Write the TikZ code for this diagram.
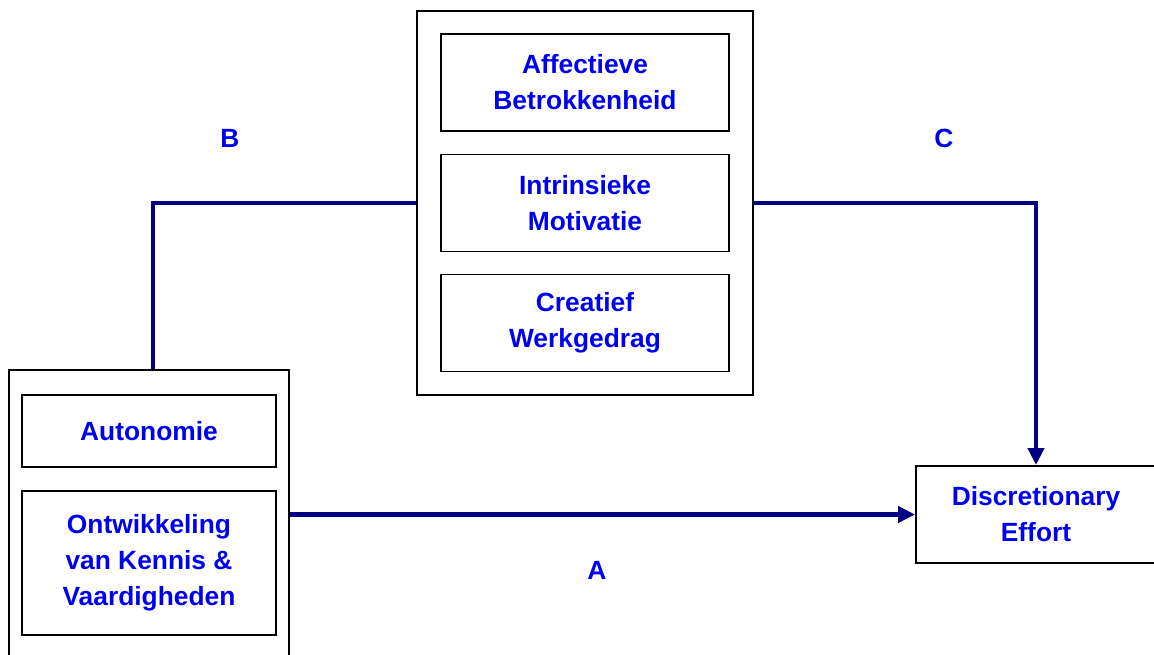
\documentclass[tikz,border=0pt]{standalone}
\usepackage{fontspec}
\setmainfont{Liberation Sans}
\usetikzlibrary{arrows.meta}
\definecolor{linkblue}{RGB}{0,0,128}
\definecolor{txtblue}{RGB}{0,0,240}
\begin{document}
\begin{tikzpicture}[x=0.02cm, y=-0.02cm,
    box/.style={
        draw,
        line width=1.1pt,
        fill=white,
        inner sep=0pt,
        align=center,
        text=txtblue,
        font=\bfseries\fontsize{15}{20.5}\selectfont},
    link/.style={
        draw=linkblue,
        line width=2.5pt},
    lbl/.style={
        text=txtblue,
        font=\bfseries\fontsize{15}{18}\selectfont}]

    \useasboundingbox (0,0) rectangle (1154,654);

    % groepen
    \node[box, minimum width=5.6cm, minimum height=6.4cm] (lft) at (149,530) {};
    \node[box, minimum width=6.72cm, minimum height=7.68cm] (mid) at (585,203) {};

    \node[box, minimum width=5.08cm, minimum height=1.44cm] (auto) at (149,431) {Autonomie};
    \node[box, minimum width=5.08cm, minimum height=2.88cm] (ontw) at (149,563) {Ontwikkeling\\van Kennis \&\\Vaardigheden};

    \node[box, minimum width=5.76cm, minimum height=1.94cm] (aff) at (585,82.5) {Affectieve\\Betrokkenheid};
    \node[box, minimum width=5.76cm, minimum height=1.94cm] (intr) at (585,203) {Intrinsieke\\Motivatie};
    \node[box, minimum width=5.76cm, minimum height=1.94cm] (crea) at (585,323) {Creatief\\Werkgedrag};

    \node[box, minimum width=4.8cm, minimum height=1.94cm] (disc) at (1036,514.5) {Discretionary\\Effort};

    % paden
    \draw[link] ([xshift=0.08cm]lft.north) |- (mid.west);
    \draw[link, -{Triangle[length=0.34cm, width=0.32cm]}] (mid.east) -| (disc.north);
    \draw[link, -{Triangle[length=0.34cm, width=0.32cm]}] (lft.east |- disc.west) -- (disc.west);

    \node[lbl] (labB) at (230,138) {B};
    \node[lbl] (labC) at (944,138) {C};
    \node[lbl] (labA) at (597,570) {A};
\end{tikzpicture}
\end{document}
